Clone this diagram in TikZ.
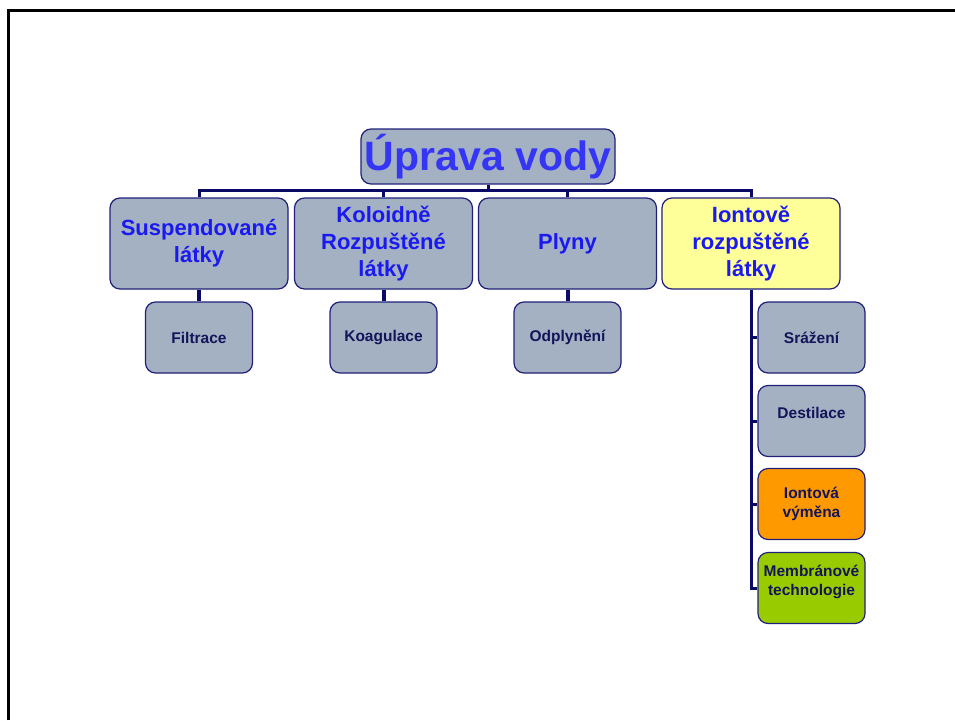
\documentclass[tikz,border=0pt]{standalone}
\usepackage{fontspec}
\setmainfont{Liberation Sans}
\usetikzlibrary{positioning}

\definecolor{boxgray}{HTML}{A3B1C2}
\definecolor{boxedge}{HTML}{20207A}
\definecolor{linknavy}{HTML}{0A0A66}
\definecolor{rootblue}{HTML}{3535F5}
\definecolor{catblue}{HTML}{1A1AF0}
\definecolor{methnavy}{HTML}{14145A}
\definecolor{ionyellow}{HTML}{FFFF99}
\definecolor{ionorange}{HTML}{FF9900}
\definecolor{memgreen}{HTML}{99CC00}

\begin{document}
\begin{tikzpicture}[
  x={(1pt,0pt)},
  y={(0pt,-1pt)},
  anybox/.style={draw=boxedge, line width=1.2pt, rounded corners=10pt,
    fill=boxgray, align=center, inner sep=1pt, font=\bfseries},
  rootbox/.style={anybox, minimum width=254pt, minimum height=55pt,
    text=rootblue, font=\bfseries\fontsize{41}{44}\selectfont},
  catbox/.style={anybox, minimum width=178pt, minimum height=91pt,
    text=catblue, font=\bfseries\fontsize{22}{27}\selectfont},
  methodbox/.style={anybox, minimum width=107pt, minimum height=71pt,
    text=methnavy, font=\bfseries\fontsize{15.5}{19}\selectfont},
  link/.style={draw=linknavy, line width=3pt},
  droplink/.style={link, line width=4pt}
]
\useasboundingbox (0,0) rectangle (955,720);

% frame
\draw[line width=3pt] (8,720) -- (8,10) -- (955,10);

\node[rootbox] (root) at (488,156.5) {Úprava vody};

\node[catbox] (s1) at (199,243.5) {Suspendované\\látky};
\node[catbox] (s2) at (383.5,243.5) {Koloidně\\Rozpuštěné\\látky};
\node[catbox] (s3) at (567.5,243.5) {Plyny};
\node[catbox, fill=ionyellow] (s4) at (751,243.5) {Iontově\\rozpuštěné\\látky};

\node[methodbox] (f1) at (199,337.5) {Filtrace};
\node[methodbox] (f2) at (383.5,337.5) {\strut Koagulace};
\node[methodbox] (f3) at (567.5,337.5) {\strut Odplynění};

\node[methodbox] (m1) at (811.5,337.5) {Srážení};
\node[methodbox] (m2) at (811.5,421) {\raisebox{8pt}[\height][\depth]{Destilace}};
\node[methodbox, fill=ionorange] (m3) at (811.5,504) {Iontová\\výměna};
\node[methodbox, fill=memgreen] (m4) at (811.5,588)
  {\raisebox{6pt}[\height][\depth]{\begin{tabular}{@{}c@{}}Membránové\\technologie\end{tabular}}};

\foreach \n in {s1,s2,s3,s4}
  \draw[link] (root.south) -- ++(0,6) -| (\n.north);

\foreach \n in {1,2,3}
  \draw[droplink] (s\n.south) -- (f\n.north);

\foreach \n in {m1,m2,m3,m4}
  \draw[link] (s4.south) |- (\n.west);
\end{tikzpicture}
\end{document}
